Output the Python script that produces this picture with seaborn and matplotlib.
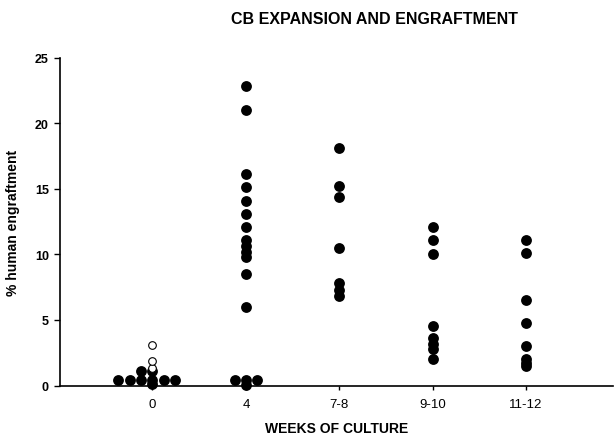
import pandas as pd
import matplotlib.pyplot as plt
import seaborn as sns

# values (% human engraftment per mouse)
weeks = ["0", "4", "7-8", "9-10", "11-12"]
week0_filled = [0.4, 0.4, 0.4, 0.4, 0.4, 0.4, 0.15, 1.1, 1.1]
week0_open = [1.3, 1.9, 3.1]
week4 = [22.8, 21.0, 16.1, 15.1, 14.1, 13.1, 12.1, 11.1, 10.6, 10.2, 9.8,
         8.5, 6.0, 0.4, 0.4, 0.4, 0.05]
week78 = [18.1, 15.2, 14.4, 10.5, 7.8, 7.3, 6.8]
week910 = [12.1, 11.1, 10.0, 4.5, 3.6, 3.2, 2.8, 2.0]
week1112 = [11.1, 10.1, 6.5, 4.8, 3.0, 2.0, 1.7, 1.5]

filled = {"0": week0_filled, "4": week4, "7-8": week78,
          "9-10": week910, "11-12": week1112}
rows = [(w, v) for w in weeks for v in filled[w]]
df = pd.DataFrame(rows, columns=["weeks", "engraft"])
df_open = pd.DataFrame({"weeks": "0", "engraft": week0_open})

# tied values near zero spread sideways, the rest sit in one column
row = df[(df["engraft"] > 0.3) & (df["engraft"] < 0.5)]
pair = df[(df["engraft"] > 1.0) & (df["engraft"] < 1.2)]
single = df.drop(row.index).drop(pair.index)

sns.set_style("ticks")
plt.rcParams["font.family"] = ["Liberation Sans", "DejaVu Sans"]
plt.rcParams["text.color"] = "black"
plt.rcParams["axes.labelcolor"] = "black"
plt.rcParams["xtick.color"] = "black"
plt.rcParams["ytick.color"] = "black"

fig = plt.figure(figsize=(6.15, 4.39), dpi=100)
ax = fig.add_axes([60 / 615, 52.5 / 439, 553 / 615, 328 / 439])

dot = dict(order=weeks, color="black", size=7.8, linewidth=0, ax=ax, zorder=3)
sns.stripplot(data=single, x="weeks", y="engraft", jitter=False, **dot)
sns.swarmplot(data=row, x="weeks", y="engraft", **dot)
sns.swarmplot(data=pair, x="weeks", y="engraft", **dot)
sns.stripplot(data=df_open, x="weeks", y="engraft", order=weeks, jitter=False,
              color="white", edgecolor="black", linewidth=0.8, size=5.5,
              ax=ax, zorder=4)
for coll in ax.collections:
    coll.set_clip_on(False)

ax.set_xlim(-0.99, 4.93)
ax.set_ylim(0, 25)
ax.set_yticks([0, 5, 10, 15, 20, 25])
ax.tick_params(axis="y", length=4, width=1, pad=4, labelsize=9)
ax.tick_params(axis="x", length=3, width=1, pad=6, labelsize=9.5)
for lab in ax.get_yticklabels():
    lab.set_fontweight("bold")
for lab in ax.get_xticklabels():
    lab.set_fontweight("medium")

ax.set_xlabel("WEEKS OF CULTURE", fontsize=10, fontweight="bold", labelpad=8)
ax.set_ylabel("% human engraftment", fontsize=10, fontweight="bold", labelpad=11)
fig.text(374 / 615, 1 - 19 / 439, "CB EXPANSION AND ENGRAFTMENT",
         ha="center", va="center", fontsize=11.5, fontweight="bold")

sns.despine(ax=ax)
for side in ["left", "bottom"]:
    ax.spines[side].set_linewidth(1.2)
    ax.spines[side].set_color("black")
    ax.spines[side].set_zorder(2)

plt.savefig("out.png", dpi=100)
plt.close()
